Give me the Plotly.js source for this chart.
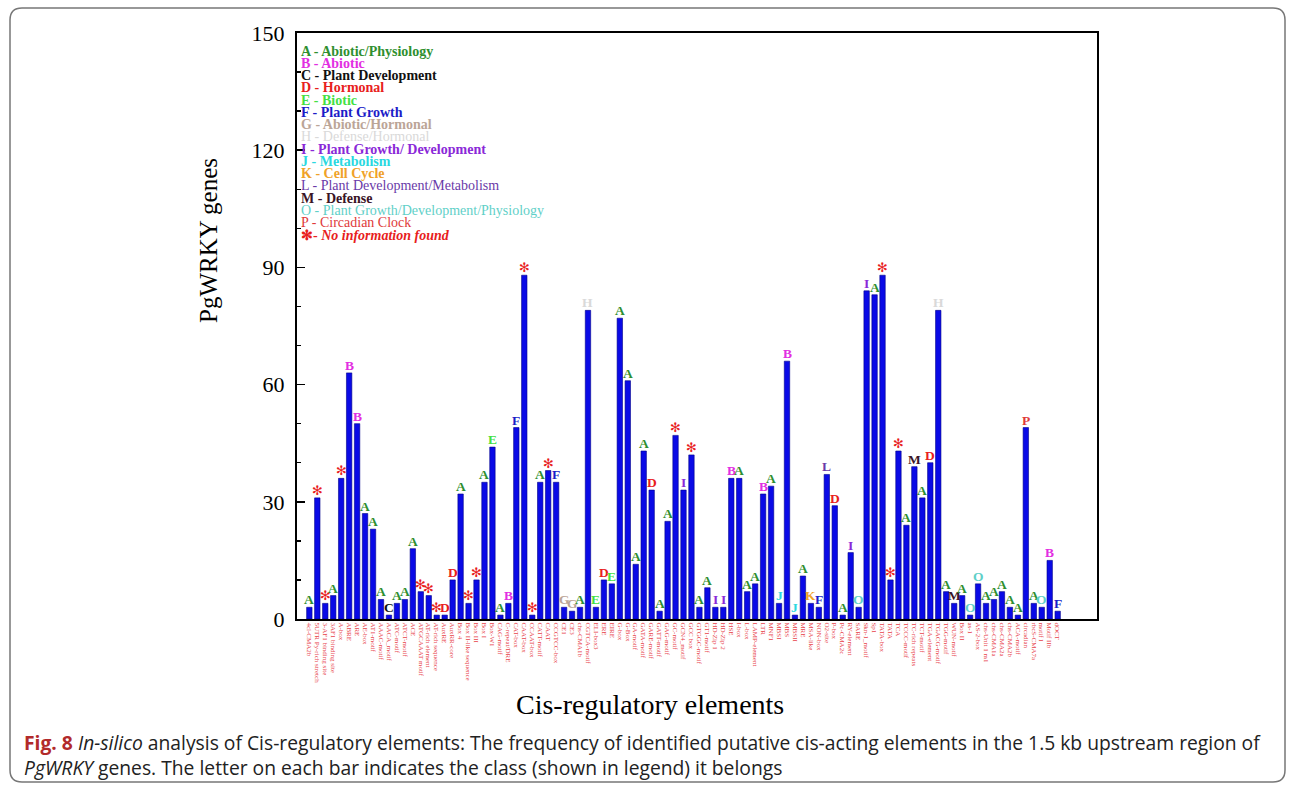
<!DOCTYPE html>
<html>
<head>
<meta charset="utf-8">
<script src="https://cdn.plot.ly/plotly-3.0.1.min.js"></script>
<style>html,body{margin:0;padding:0;background:#fff;}#chart{width:1295px;height:789px;}</style>
</head>
<body>
<div id="chart"></div>
<script>
// ---- data ----
const categories = [
 "4cl-CMA2b","5UTR Py-rich stretch","3-AF1 binding site","3AF1 binding site","A-box","ABRE","ARE","AE-box","AT1-motif","AAAC-motif",
 "AACA_motif","ATC-motif","ATCT-motif","ACE","ATGCAAAT motif","AT-rich element","AT-rich sequence","AuxRE","AuxRR-core","Box 4",
 "Box II-like sequence","Box III","Box I","Box-W1","CAG-motif","C-repeat/DRE","CAT-box","CAAT-box","CCAAT-box","CATT-motif",
 "CAAT","CCGTCC-box","CE1","CE3","chs-CMA1b","CGTCA-motif","ELI-box3","ERE","EIRE","G-box",
 "G-Box","GA-motif","GATA-motif","GARE-motif","GATT-motif","GAG-motif","GC-motif","GCN4_motif","GCC box","GTGGC-motif",
 "GT1-motif","HD-Zip 1","HD-Zip 2","HSE","I-box","L-box","LAMP-element","LTR","MNF1","MBSI",
 "MBS","MBSII","MRE","MSA-like","NON-box","O2-site","P-box","Pc-CMA2c","RY-element","SARE",
 "Skn-1_motif","Sp1","TATA-box","TATA","TCA","TCCC-motif","TC-rich repeats","TCT-motif","TGA-element","TGACG-motif",
 "TGG-motif","WUN-motif","Box II","as-1","AS-2-box","chs-Unit 1 m1","chs-CMA1a","chs-CMA2a","chs-CMA2b","ACA-motif",
 "circadian","rbcS-CMA7a","motif I","Motif IIb","dOCT"
];
const values = [
 3,31,4,6,36,63,50,27,23,5,
 1,4,5,18,7,6,1,1,10,32,
 4,10,35,44,1,4,49,88,1,35,
 38,35,3,2,3,79,3,10,9,77,
 61,14,43,33,2,25,47,33,42,3,
 8,3,3,36,36,7,9,32,34,4,
 66,1,11,4,3,37,29,1,17,3,
 84,83,88,10,43,24,39,31,40,79,
 7,4,6,1,9,4,5,7,3,1,
 49,4,3,15,2
];
const classes = [
 "A","*","*","A","*","B","B","A","A","A",
 "C","A","A","A","*","*","*","D","D","A",
 "*","*","A","E","A","B","F","*","*","A",
 "*","F","G","G","A","H","E","D","E","A",
 "A","A","A","D","A","A","*","I","*","A",
 "A","I","I","B","A","A","A","B","A","J",
 "B","J","A","K","F","L","D","A","I","O",
 "I","A","*","*","*","A","M","A","D","H",
 "A","M","A","O","O","A","A","A","A","A",
 "P","A","O","B","F"
];
const legendKeys  = ["A","B","C","D","E","F","G","H","I","J","K","L","M","O","P","*"];
const legendNames = ["Abiotic/Physiology","Abiotic","Plant Development","Hormonal","Biotic","Plant Growth",
 "Abiotic/Hormonal","Defense/Hormonal","Plant Growth/ Development","Metabolism","Cell Cycle",
 "Plant Development/Metabolism","Defense","Plant Growth/Development/Physiology","Circadian Clock","No information found"];
const yTicks = [0,30,60,90,120,150];

// ---- styles ----
const classColor = {A:"#2f8f2f",B:"#e22ee2",C:"#111111",D:"#e8201c",E:"#44e044",F:"#1c1cc8",G:"#bba597",
 H:"#d9d9d9",I:"#8a28d8",J:"#2ad8e0",K:"#f0a228",L:"#6a3aa8",M:"#3a1426",O:"#5fd0c8",P:"#e03a3a","*":"#e8201c"};
const boldClass = {A:1,B:1,C:1,D:1,E:1,F:1,G:1,H:0,I:1,J:1,K:1,L:0,M:1,O:0,P:0,"*":1};
const serif = "Liberation Serif, Times New Roman, serif";

// plot area in px: x 297..1097, y 33..619
const L=297,R=1097,T=33,B=619,W=1295,H=789;
const px2x = p => (p-L)/(R-L);
const py2y = p => (B-p)/(B-T);

const annotations = [];
// letters on bars
categories.forEach((c,i)=>{
  const k = classes[i];
  const txt = k==="*" ? "✻" : k;
  annotations.push({x:c, y:values[i], xref:"x", yref:"y", text:"<b>"+txt+"</b>", showarrow:false,
    yanchor:"bottom", yshift:-2, font:{family:k==="*"?"DejaVu Sans":serif, size:k==="*"?13:13.5, color:classColor[k]}});
});
// legend text
legendKeys.forEach((k,i)=>{
  let t = k==="*" ? "✻- <i>"+legendNames[i]+"</i>" : k+" - "+legendNames[i];
  if (boldClass[k]) t = "<b>"+t+"</b>";
  annotations.push({x:px2x(299), y:py2y(51+i*12.27), xref:"paper", yref:"paper", text:t, showarrow:false,
    xanchor:"left", yanchor:"middle", font:{family:serif, size:14, color:classColor[k]}});
});
// axis titles
annotations.push({x:px2x(650), y:py2y(704), xref:"paper", yref:"paper", showarrow:false, xanchor:"center", yanchor:"middle",
  text:"Cis-regulatory elements", font:{family:serif, size:28, color:"#000"}});
annotations.push({x:px2x(209), y:py2y(241), xref:"paper", yref:"paper", showarrow:false, xanchor:"center", yanchor:"middle",
  textangle:-90, text:"PgWRKY genes", font:{family:serif, size:25, color:"#000"}});
// caption
annotations.push({x:px2x(22), y:py2y(755), xref:"paper", yref:"paper", xanchor:"left", yanchor:"middle", align:"left",
  showarrow:false, font:{family:"Open Sans, sans-serif", size:19.3, color:"#222"},
  text:"<b><span style='color:#b22a2a'>Fig. 8</span></b> <i>In-silico</i> analysis of Cis-regulatory elements: The frequency of identified putative cis-acting elements in the 1.5 kb upstream region of<br><i>PgWRKY</i> genes. The letter on each bar indicates the class (shown in legend) it belongs"});

// rounded border
const x0=px2x(10), x1=px2x(1285), y0=py2y(8), y1=py2y(782);
const rx=12/(R-L), ry=12/(B-T);
const path = `M ${x0+rx},${y0} L ${x1-rx},${y0} Q ${x1},${y0} ${x1},${y0-ry} L ${x1},${y1+ry} Q ${x1},${y1} ${x1-rx},${y1} L ${x0+rx},${y1} Q ${x0},${y1} ${x0},${y1+ry} L ${x0},${y0-ry} Q ${x0},${y0} ${x0+rx},${y0} Z`;

const trace = {type:"bar", x:categories, y:values, width:0.68,
  marker:{color:"#0a0ae6", line:{color:"#00008a", width:0.6}}, hoverinfo:"x+y"};

const layout = {
  width:W, height:H, margin:{l:L, r:W-R, t:T, b:H-B}, paper_bgcolor:"#fff", plot_bgcolor:"#fff",
  showlegend:false, bargap:0.3,
  xaxis:{type:"category", range:[-1.55,98.94], tickmode:"array", tickvals:categories, ticktext:categories,
    tickangle:90, tickfont:{family:serif, size:7, color:"#e8414a"},
    showline:true, mirror:true, linecolor:"#000", linewidth:2, ticks:"", showgrid:false, zeroline:false,
    automargin:false},
  yaxis:{range:[0,150], tickvals:yTicks, ticks:"inside", ticklen:8, tickwidth:1.5, tickcolor:"#000",
    tickfont:{family:serif, size:22, color:"#000"}, ticklabelstandoff:6, showline:true, mirror:true, linecolor:"#000", linewidth:2,
    showgrid:false, zeroline:false, automargin:false,
    minor:{ticks:"inside", ticklen:4, dtick:10, tickcolor:"#000"}},
  annotations:annotations,
  shapes:[{type:"path", xref:"paper", yref:"paper", path:path, line:{color:"#777", width:1.5}, fillcolor:"rgba(0,0,0,0)", layer:"below"}]
};
Plotly.newPlot("chart",[trace],layout,{displayModeBar:false, staticPlot:true});
</script>
</body>
</html>
